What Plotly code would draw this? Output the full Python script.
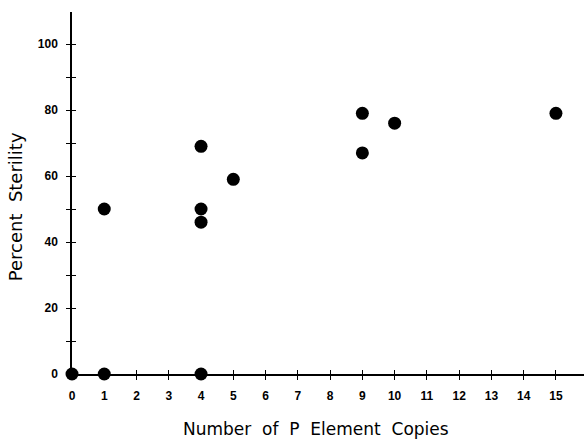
import plotly.graph_objects as go

copies = [0, 1, 4, 1, 4, 4, 4, 5, 9, 9, 10, 15]
sterility = [0, 0, 0, 50, 69, 50, 46, 59, 79, 67, 76, 79]

x_ticks = list(range(0, 16))
x_labels = [str(v) for v in x_ticks]
y_ticks = list(range(0, 101, 10))
y_labels = [str(v) if v % 20 == 0 else "" for v in y_ticks]

x_title = "Number\u00a0 of\u00a0 P\u00a0 Element\u00a0 Copies"
y_title = "Percent\u00a0 Sterility"

fig = go.Figure()
fig.add_trace(go.Scatter(
    x=copies, y=sterility, mode="markers",
    marker=dict(color="black", size=13, line=dict(width=0)),
    cliponaxis=False, showlegend=False,
))
# invisible trace to activate overlay axes for crossing ticks
fig.add_trace(go.Scatter(x=[], y=[], xaxis="x2", yaxis="y2", showlegend=False))

font_ticks = dict(family="Liberation Sans, Arial", size=12, color="black", weight="bold")
font_xtitle = dict(family="DejaVu Sans", size=17, color="black")
font_ytitle = dict(family="DejaVu Sans", size=18, color="black")
xr = [0, 15.87]
yr = [0, 109.7]

fig.update_layout(
    width=584, height=440,
    margin=dict(l=72, r=0, t=12, b=66),
    paper_bgcolor="white", plot_bgcolor="white",
    xaxis=dict(
        range=xr, tickvals=x_ticks, ticktext=x_labels, automargin=False,
        showgrid=False, zeroline=False, showline=True, linecolor="black", linewidth=1.5,
        ticks="outside", ticklen=4, tickwidth=1.2, tickcolor="black",
        tickfont=font_ticks, ticklabelstandoff=6,
    ),
    yaxis=dict(
        range=yr, tickvals=y_ticks, ticktext=y_labels, automargin=False,
        showgrid=False, zeroline=False, showline=True, linecolor="black", linewidth=1.5,
        ticks="outside", ticklen=4, tickwidth=1.2, tickcolor="black",
        tickfont=font_ticks, ticklabelstandoff=6,
    ),
    xaxis2=dict(
        range=xr, overlaying="x", tickvals=x_ticks, showticklabels=False,
        showgrid=False, zeroline=False, showline=False, automargin=False,
        ticks="inside", ticklen=4, tickwidth=1.2, tickcolor="black",
    ),
    yaxis2=dict(
        range=yr, overlaying="y", tickvals=y_ticks, showticklabels=False,
        showgrid=False, zeroline=False, showline=False, automargin=False,
        ticks="inside", ticklen=4, tickwidth=1.2, tickcolor="black",
    ),
    annotations=[
        dict(
            text=y_title, font=font_ytitle, textangle=-90, showarrow=False,
            xref="paper", yref="paper", x=-0.111, y=0.461,
            xanchor="center", yanchor="middle",
        ),
        dict(
            text=x_title, font=font_xtitle, showarrow=False,
            xref="paper", yref="paper", x=0.4766, y=-0.152,
            xanchor="center", yanchor="middle",
        ),
    ],
)

fig.write_html(
    "out.html",
    config={"displayModeBar": False},
    post_script="document.body.style.margin='0';document.body.style.overflow='hidden';",
)
